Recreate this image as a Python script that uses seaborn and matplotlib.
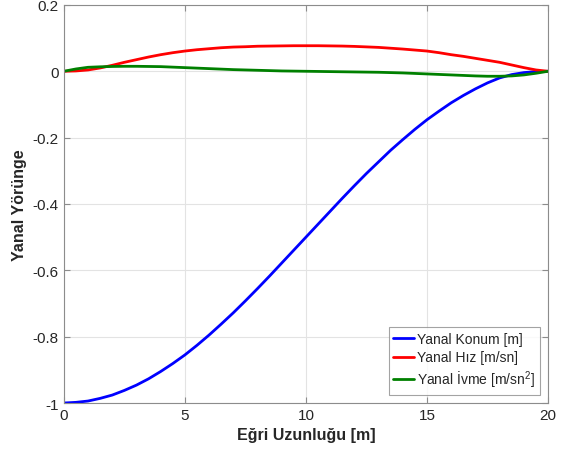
import numpy as np
import matplotlib
matplotlib.use("Agg")
import matplotlib.pyplot as plt
import seaborn as sns

# arc length [m]
x_vals = [0, 0.5, 1, 1.5, 2, 2.5, 3, 3.5, 4, 4.5, 5, 5.5, 6, 6.5, 7, 7.5, 8, 8.5, 9, 9.5,
          10, 10.5, 11, 11.5, 12, 12.5, 13, 13.5, 14, 14.5, 15, 15.5, 16, 16.5, 17, 17.5,
          18, 18.5, 19, 19.5, 20]

# lateral position [m]
konum = [-1.0, -0.998, -0.994, -0.986, -0.976, -0.962, -0.946, -0.927, -0.905, -0.881,
         -0.855, -0.826, -0.795, -0.762, -0.728, -0.692, -0.655, -0.617, -0.578, -0.539,
         -0.500, -0.461, -0.422, -0.383, -0.345, -0.308, -0.273, -0.238, -0.206, -0.175,
         -0.146, -0.120, -0.095, -0.073, -0.053, -0.035, -0.020, -0.010, -0.004, -0.001, 0.0]
# lateral velocity [m/sn]
hiz = [0.0, 0.001, 0.004, 0.010, 0.018, 0.027, 0.035, 0.043, 0.050, 0.056,
       0.061, 0.065, 0.068, 0.071, 0.073, 0.074, 0.0755, 0.076, 0.0765, 0.077,
       0.077, 0.077, 0.0765, 0.076, 0.075, 0.0735, 0.072, 0.0695, 0.067, 0.064,
       0.061, 0.056, 0.050, 0.045, 0.039, 0.033, 0.027, 0.019, 0.011, 0.004, 0.0]
# lateral acceleration [m/sn^2]
ivme = [0.0, 0.007, 0.012, 0.0135, 0.0145, 0.015, 0.015, 0.0145, 0.014, 0.0125,
        0.011, 0.0095, 0.008, 0.0065, 0.005, 0.004, 0.003, 0.002, 0.001, 0.0005,
        0.0, -0.0005, -0.001, -0.0015, -0.002, -0.0025, -0.003, -0.004, -0.005, -0.0065,
        -0.008, -0.0095, -0.011, -0.0125, -0.014, -0.015, -0.015, -0.014, -0.011, -0.006, 0.0]

labels = ["Yanal Konum [m]", "Yanal Hız [m/sn]", r"Yanal İvme [m/sn$^2$]"]
colors = ["#0000ff", "#ff0000", "#008000"]


def main():
    sns.set_style("white")
    plt.rcParams["font.family"] = ["Liberation Sans", "DejaVu Sans"]
    plt.rcParams["mathtext.fontset"] = "custom"
    plt.rcParams["mathtext.rm"] = "Liberation Sans"

    fig = plt.figure(figsize=(5.65, 4.56), dpi=100)
    ax = fig.add_axes([0.113, 0.114, 0.857, 0.873])

    for series, lab, col in zip([konum, hiz, ivme], labels, colors):
        sns.lineplot(x=x_vals, y=series, ax=ax, color=col, linewidth=2, label=lab)

    ax.set_xlim(0, 20)
    ax.set_ylim(-1, 0.2)
    ax.set_xticks([0, 5, 10, 15, 20])
    ax.set_yticks([-1, -0.8, -0.6, -0.4, -0.2, 0, 0.2])
    ax.yaxis.set_major_formatter(plt.FuncFormatter(lambda v, p: f"{v:g}"))
    ax.xaxis.set_major_formatter(plt.FuncFormatter(lambda v, p: f"{v:g}"))

    ax.grid(True, color="#e3e3e3", linewidth=0.8)
    ax.set_axisbelow(True)
    for s in ax.spines.values():
        s.set_color("#8c8c8c")
        s.set_linewidth(0.8)
        s.set_visible(True)
    ax.tick_params(direction="in", length=4, width=0.8, color="#8c8c8c",
                   labelsize=11, labelcolor="#262626", top=True, right=True,
                   bottom=True, left=True)

    ax.set_xlabel("Eğri Uzunluğu [m]", fontsize=11.5, fontweight="bold", color="#262626")
    ax.set_ylabel("Yanal Yörünge", fontsize=11.5, fontweight="bold", color="#262626")

    leg = ax.legend(loc="lower right", fontsize=10, frameon=True, fancybox=False,
                    handlelength=1.5, handletextpad=0.2, borderpad=0.35,
                    labelspacing=0.3, borderaxespad=0.6)
    leg.get_frame().set_edgecolor("#8c8c8c")
    leg.get_frame().set_linewidth(0.8)

    fig.savefig("out.png", dpi=100)


if __name__ == "__main__":
    main()
